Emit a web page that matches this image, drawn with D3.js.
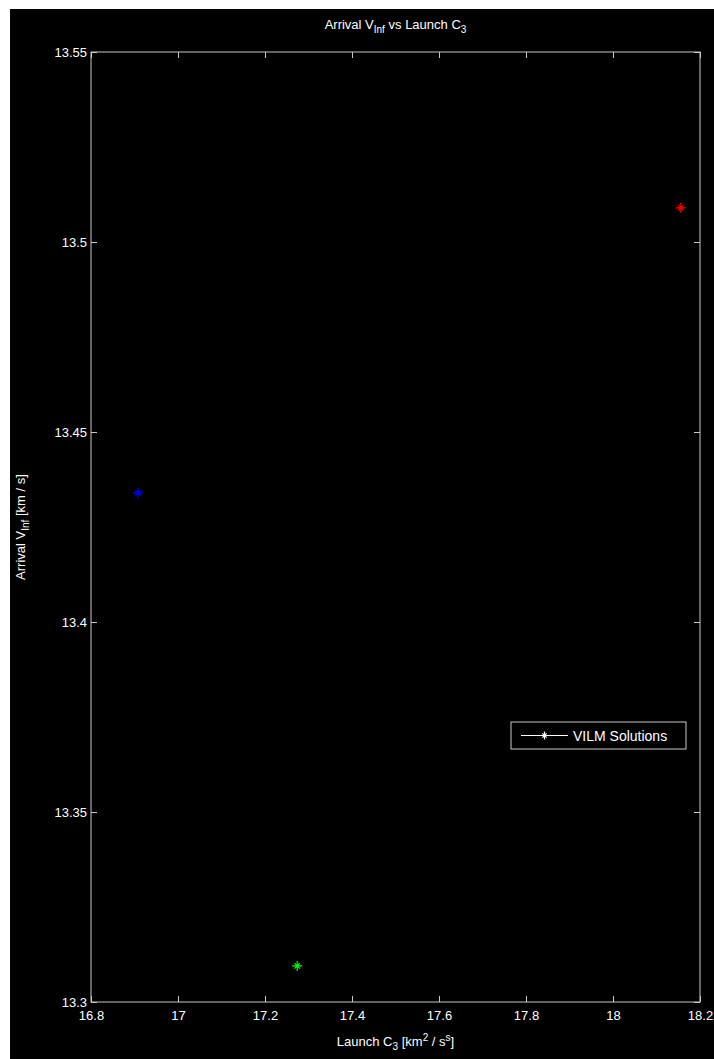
<!DOCTYPE html>
<html>
<head>
<meta charset="utf-8">
<script src="https://cdn.jsdelivr.net/npm/d3@7"></script>
<style>
  body { margin: 0; background: #fff; }
  svg text { font-family: "Liberation Sans Narrow", "Liberation Sans", Arial, sans-serif; fill: #fff; }
</style>
</head>
<body>
<svg id="fig" width="714" height="1059"></svg>
<script>
// solutions (launch C3, arrival Vinf)
var c3 = [16.908, 17.274, 18.156];
var vinf = [13.434, 13.3095, 13.509];
var colors = ["#0000ff", "#00ff00", "#ff0000"];

var xTicks = [16.8, 17, 17.2, 17.4, 17.6, 17.8, 18, 18.2];
var yTicks = [13.3, 13.35, 13.4, 13.45, 13.5, 13.55];

var svg = d3.select("#fig"),
   margin = {top: 52, right: 14, bottom: 57, left: 91},
   width = +svg.attr("width") - margin.left - margin.right,
   height = +svg.attr("height") - margin.top - margin.bottom;

// figure background (white strip top/left like the export)
svg.append("rect")
   .attr("x", 10).attr("y", 9)
   .attr("width", 704).attr("height", 1050)
   .attr("fill", "#000");

var g = svg.append("g").attr("transform", "translate(" + margin.left + "," + margin.top + ")");

var x = d3.scaleLinear().domain([16.8, 18.2]).range([0, width]);
var y = d3.scaleLinear().domain([13.3, 13.55]).range([height, 0]);

var axisColor = "#c8c8c8";

function styleAxis(sel, hideText) {
   sel.select(".domain").remove();
   sel.selectAll(".tick line").attr("stroke", axisColor);
   sel.selectAll(".tick text")
      .style("font-size", "13px")
      .attr("fill", "#f0f0f0");
   if (hideText) sel.selectAll(".tick text").remove();
}

var fmt = function (d) { return d3.format("")(+d.toFixed(2)); };

// inward ticks on all four sides
g.append("g")
 .attr("transform", "translate(0," + height + ")")
 .call(d3.axisBottom(x).tickValues(xTicks).tickFormat(fmt).tickSizeInner(-6).tickPadding(9))
 .call(styleAxis, false);

g.append("g")
 .call(d3.axisTop(x).tickValues(xTicks).tickSizeInner(-6))
 .call(styleAxis, true);

g.append("g")
 .call(d3.axisLeft(y).tickValues(yTicks).tickFormat(fmt).tickSizeInner(-6).tickPadding(4))
 .call(styleAxis, false);

g.append("g")
 .attr("transform", "translate(" + width + ",0)")
 .call(d3.axisRight(y).tickValues(yTicks).tickSizeInner(-6))
 .call(styleAxis, true);

// box
g.append("rect")
 .attr("width", width).attr("height", height)
 .attr("fill", "none")
 .attr("stroke", axisColor)
 .attr("stroke-width", 1);

// star marker (MATLAB '*')
function star(sel, s) {
   var p = "M" + (-s) + ",0L" + s + ",0M0," + (-s) + "L0," + s;
   var k = s * 0.55;
   p += "M" + (-k) + "," + (-k) + "L" + k + "," + k + "M" + (-k) + "," + k + "L" + k + "," + (-k);
   sel.append("path").attr("d", p).attr("fill", "none").attr("stroke-width", 1.2);
}

c3.forEach(function (d, i) {
   var m = g.append("g")
      .attr("transform", "translate(" + x(d) + "," + y(vinf[i]) + ")");
   star(m, 5);
   m.select("path").attr("stroke", colors[i]);
});

// legend
var leg = svg.append("g").attr("transform", "translate(511,722)");
leg.append("rect")
   .attr("width", 175).attr("height", 27)
   .attr("fill", "#000")
   .attr("stroke", axisColor);
leg.append("line")
   .attr("x1", 10).attr("x2", 57).attr("y1", 13.5).attr("y2", 13.5)
   .attr("stroke", "#fff");
var lm = leg.append("g").attr("transform", "translate(33.5,13.5)");
star(lm, 4);
lm.select("path").attr("stroke", "#fff");
leg.append("text")
   .attr("x", 62).attr("y", 18.5)
   .style("font-size", "14px")
   .text("VILM Solutions");

// title
var title = svg.append("text")
   .attr("x", margin.left + width / 2).attr("y", 29)
   .attr("text-anchor", "middle")
   .style("font-size", "13px");
title.append("tspan").text("Arrival V");
title.append("tspan").attr("dy", 4).style("font-size", "10px").text("Inf");
title.append("tspan").attr("dy", -4).text(" vs Launch C");
title.append("tspan").attr("dy", 4).style("font-size", "10px").text("3");

// x label
var xl = svg.append("text")
   .attr("x", margin.left + width / 2).attr("y", 1046)
   .attr("text-anchor", "middle")
   .style("font-size", "13px");
xl.append("tspan").text("Launch C");
xl.append("tspan").attr("dy", 4).style("font-size", "10px").text("3");
xl.append("tspan").attr("dy", -4).text(" [km");
xl.append("tspan").attr("dy", -5).style("font-size", "10px").text("2");
xl.append("tspan").attr("dy", 5).text(" / s");
xl.append("tspan").attr("dy", -5).style("font-size", "10px").text("s");
xl.append("tspan").attr("dy", 5).text("]");

// y label
var yl = svg.append("text")
   .attr("transform", "translate(25," + (margin.top + height / 2) + ") rotate(-90)")
   .attr("text-anchor", "middle")
   .style("font-size", "13px");
yl.append("tspan").text("Arrival V");
yl.append("tspan").attr("dy", 4).style("font-size", "10px").text("Inf");
yl.append("tspan").attr("dy", -4).text(" [km / s]");
</script>
</body>
</html>
